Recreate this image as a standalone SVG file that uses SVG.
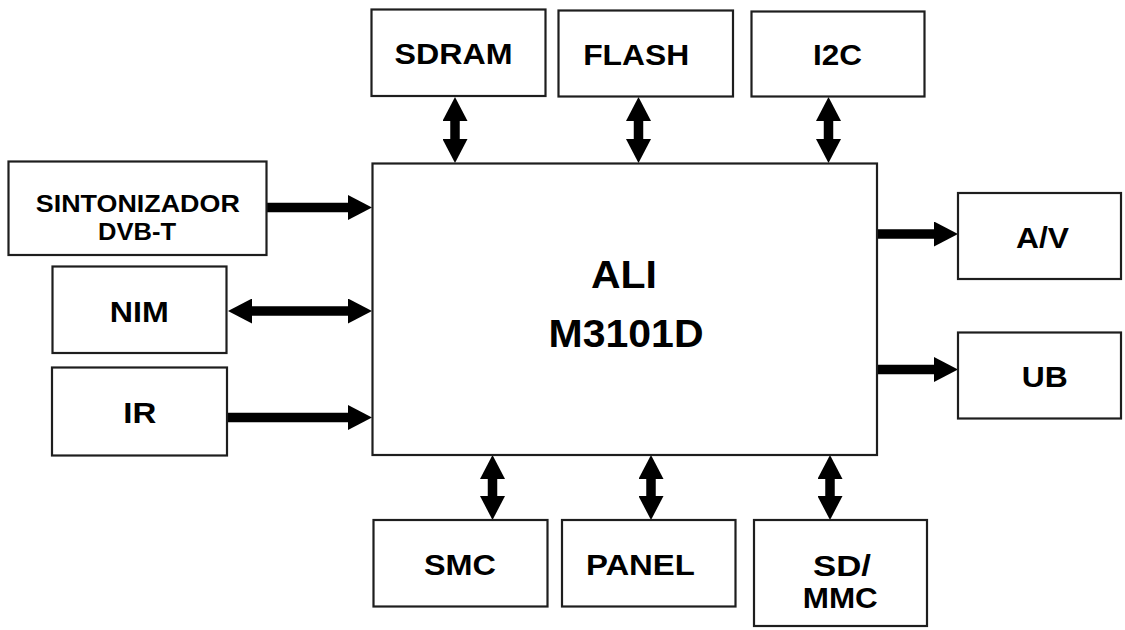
<svg xmlns="http://www.w3.org/2000/svg" width="1125" height="630" viewBox="0 0 1125 630">
<style>
.box{fill:#fff;stroke:#1e1e1e;stroke-width:2.2}
.lbl{font-family:"Liberation Sans",Arial,sans-serif;font-weight:bold;font-size:29px;fill:#000;text-anchor:middle}
.sm{font-size:24px}
.big{font-size:38px}
.cn{stroke:#000;stroke-width:9.5;fill:none}
</style>
<defs>
<marker id="ah" viewBox="0 0 24 25" refX="5" refY="12.5" markerWidth="24" markerHeight="25" markerUnits="userSpaceOnUse" orient="auto-start-reverse">
<path d="M0,0 L24,12.5 L0,25 z" fill="#000"/>
</marker>
</defs>
<rect width="1125" height="630" fill="#fff"/>
<g id="connectors">
<line class="cn" x1="267" y1="207.5" x2="353" y2="207.5" marker-end="url(#ah)"/>
<line class="cn" x1="247" y1="311" x2="353" y2="311" marker-start="url(#ah)" marker-end="url(#ah)"/>
<line class="cn" x1="228" y1="417.5" x2="353" y2="417.5" marker-end="url(#ah)"/>
<line class="cn" x1="878" y1="234" x2="939" y2="234" marker-end="url(#ah)"/>
<line class="cn" x1="878" y1="369.5" x2="939" y2="369.5" marker-end="url(#ah)"/>
<line class="cn" x1="455" y1="116" x2="455" y2="144" marker-start="url(#ah)" marker-end="url(#ah)"/>
<line class="cn" x1="638.5" y1="116" x2="638.5" y2="144" marker-start="url(#ah)" marker-end="url(#ah)"/>
<line class="cn" x1="828.5" y1="116" x2="828.5" y2="144" marker-start="url(#ah)" marker-end="url(#ah)"/>
<line class="cn" x1="492.5" y1="474" x2="492.5" y2="501" marker-start="url(#ah)" marker-end="url(#ah)"/>
<line class="cn" x1="651" y1="474" x2="651" y2="501" marker-start="url(#ah)" marker-end="url(#ah)"/>
<line class="cn" x1="830" y1="474" x2="830" y2="501" marker-start="url(#ah)" marker-end="url(#ah)"/>
</g>
<g id="main">
<rect class="box" x="372.5" y="163.5" width="504.5" height="291.5"/>
<text class="lbl big" x="624" y="288" textLength="66" lengthAdjust="spacingAndGlyphs">ALI</text>
<text class="lbl big" x="626" y="347" textLength="155" lengthAdjust="spacingAndGlyphs">M3101D</text>
</g>
<g id="sdram">
<rect class="box" x="371.5" y="9.5" width="174" height="86.5"/>
<text class="lbl" x="453.6" y="63.5" textLength="118" lengthAdjust="spacingAndGlyphs">SDRAM</text>
</g>
<g id="flash">
<rect class="box" x="558.5" y="10.5" width="174.5" height="86"/>
<text class="lbl" x="636.2" y="65" textLength="106" lengthAdjust="spacingAndGlyphs">FLASH</text>
</g>
<g id="i2c">
<rect class="box" x="751.5" y="11.5" width="173" height="85"/>
<text class="lbl" x="837.6" y="65" textLength="49" lengthAdjust="spacingAndGlyphs">I2C</text>
</g>
<g id="sintonizador">
<rect class="box" x="8.5" y="161.5" width="258" height="93.5"/>
<text class="lbl sm" x="137.8" y="211.7" textLength="204" lengthAdjust="spacingAndGlyphs">SINTONIZADOR</text>
<text class="lbl sm" x="137" y="240" textLength="78" lengthAdjust="spacingAndGlyphs">DVB-T</text>
</g>
<g id="nim">
<rect class="box" x="52.5" y="266.5" width="174" height="86.5"/>
<text class="lbl" x="139.3" y="322" textLength="59" lengthAdjust="spacingAndGlyphs">NIM</text>
</g>
<g id="ir">
<rect class="box" x="52" y="367.5" width="175" height="88"/>
<text class="lbl" x="139.8" y="423.3" textLength="33" lengthAdjust="spacingAndGlyphs">IR</text>
</g>
<g id="av">
<rect class="box" x="958" y="193" width="163" height="86"/>
<text class="lbl" x="1042.5" y="247.7" textLength="53" lengthAdjust="spacingAndGlyphs">A/V</text>
</g>
<g id="ub">
<rect class="box" x="958" y="332.5" width="163" height="86"/>
<text class="lbl" x="1044.7" y="386.7" textLength="46" lengthAdjust="spacingAndGlyphs">UB</text>
</g>
<g id="smc">
<rect class="box" x="373.5" y="520" width="174" height="86.5"/>
<text class="lbl" x="460" y="575" textLength="72" lengthAdjust="spacingAndGlyphs">SMC</text>
</g>
<g id="panel">
<rect class="box" x="562" y="520" width="173.5" height="86.5"/>
<text class="lbl" x="640.4" y="575" textLength="109" lengthAdjust="spacingAndGlyphs">PANEL</text>
</g>
<g id="sdmmc">
<rect class="box" x="754" y="520" width="173" height="106"/>
<text class="lbl" x="842" y="576" textLength="58" lengthAdjust="spacingAndGlyphs">SD/</text>
<text class="lbl" x="840.3" y="608.3" textLength="75" lengthAdjust="spacingAndGlyphs">MMC</text>
</g>
</svg>
